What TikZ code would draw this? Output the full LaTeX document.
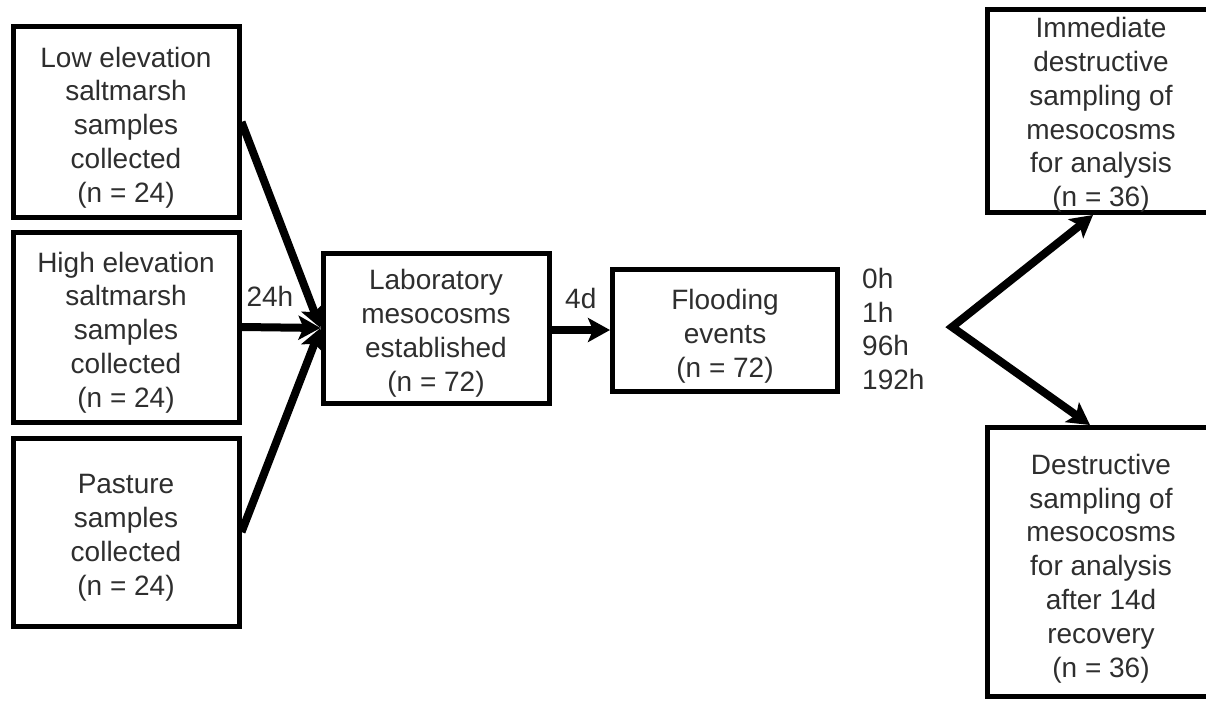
\documentclass[tikz,border=0pt]{standalone}
\usepackage{fontspec}
\setmainfont{Liberation Sans}
\usepackage{tikz}
\usetikzlibrary{arrows.meta}
\usetikzlibrary{calc,positioning}

\newcommand{\drop}[1]{\rule{0pt}{#1}}

\begin{document}
\begin{tikzpicture}[x=1pt, y=-1pt,
    every node/.style={font=\fontsize{28}{33.8}\selectfont, text=black!82},
    stage/.style={draw=black, line width=5pt, align=center, inner sep=0pt},
    flow/.style={-{Stealth[length=22pt, width=24pt, inset=5pt]}, line width=8pt},
    fork/.style={{Stealth[length=22pt, width=24pt, inset=5pt]}-{Stealth[length=22pt, width=24pt, inset=5pt]}, line width=8pt, line join=miter}]

    \clip (0,0) rectangle (1206,701);

    % sampling sites
    \node[stage, minimum width=226pt, minimum height=190pt] (low) at (126,122)
        {\drop{31pt}Low elevation\\saltmarsh\\samples\\collected\\(n = 24)};
    \node[stage, minimum width=226pt, minimum height=190pt] (high) at (126,327)
        {\drop{31pt}High elevation\\saltmarsh\\samples\\collected\\(n = 24)};
    \node[stage, minimum width=226pt, minimum height=188pt] (pasture) at (126,532)
        {\drop{31pt}Pasture\\samples\\collected\\(n = 24)};

    % experiment
    \node[stage, minimum width=226pt, minimum height=150pt] (lab) at (436,328)
        {\drop{31pt}Laboratory\\mesocosms\\established\\(n = 72)};
    \node[stage, minimum width=225pt, minimum height=122pt] (flood) at (725,330)
        {\drop{33pt}Flooding\\events\\(n = 72)};
    \node[anchor=west, align=left, inner sep=0pt] (times) at (862,329)
        {0h\\1h\\96h\\192h};

    % sampling
    \node[stage, minimum width=228pt, minimum height=203pt] (imm) at (1101,111)
        {\drop{28pt}Immediate\\destructive\\sampling of\\mesocosms\\for analysis\\(n = 36)};
    \node[stage, minimum width=228pt, minimum height=269pt] (rec) at (1101,562)
        {\drop{33pt}Destructive\\sampling of\\mesocosms\\for analysis\\after 14d\\recovery\\(n = 36)};

    \draw[flow] (low.east) -- (lab.west);
    \draw[flow] (high.east) -- node[above, pos=0.36, yshift=14pt]{24h} (lab.west);
    \draw[flow] (pasture.east) -- (lab.west);

    \draw[flow] (lab.east |- flood.west) -- node[above, yshift=14pt]{4d} (flood.west);

    \coordinate (split) at (952,327);
    \draw[fork] ([xshift=-8pt]imm.south) -- (split) -- ([xshift=-11pt]rec.north);

\end{tikzpicture}
\end{document}
